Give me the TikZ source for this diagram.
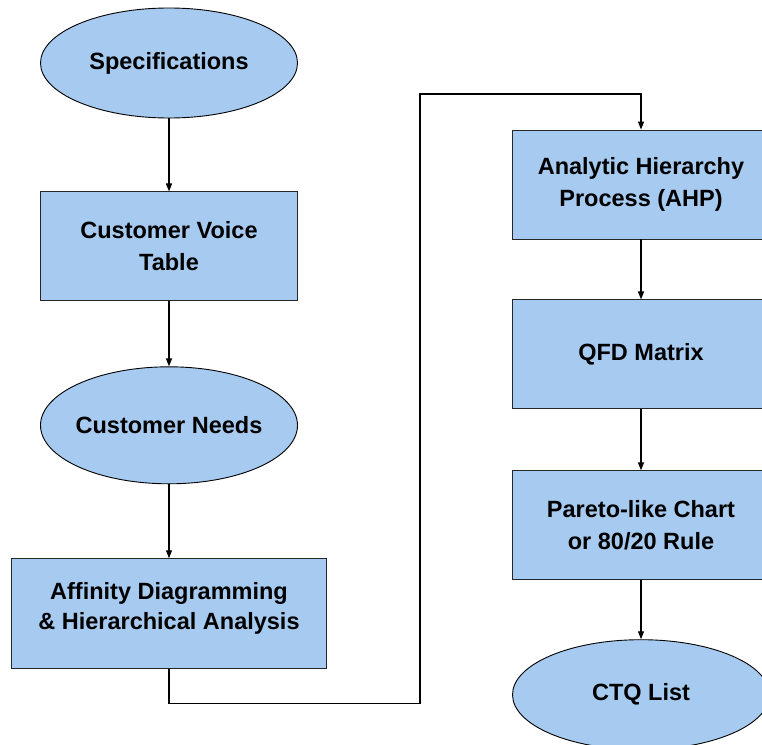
\documentclass[tikz,border=0pt]{standalone}
\usepackage{fontspec}
\setmainfont{Liberation Sans}
\usepackage{xcolor}
\usepackage{tikz}
\usetikzlibrary{shapes.geometric, arrows.meta, positioning}

\definecolor{boxblue}{RGB}{166,202,240}

\begin{document}
\begin{tikzpicture}[
    x=1pt, y=-1pt,
    node distance=60pt,
    termnode/.style={ellipse, draw=black, fill=boxblue, line width=0.9pt, minimum width=257pt, minimum height=110pt, inner ysep=0pt, inner xsep=-40pt, align=center, font=\fontsize{23.5}{32}\selectfont\bfseries},
    procnode/.style={rectangle, draw=black!85, fill=boxblue, line width=0.9pt, minimum width=257pt, minimum height=109pt, inner sep=0pt, align=center, font=\fontsize{23.5}{32}\selectfont\bfseries},
    arr/.style={-{Triangle[length=8pt, width=6pt]}, line width=1.3pt, color=black}
]
\useasboundingbox (0,0) rectangle (762,744);
\clip (0,0) rectangle (762,744);

% left column
\node[termnode] (spec) at (169,63) {Specifications};
\node[procnode, below=73pt of spec] (voice) {Customer Voice\\Table};
\node[termnode, minimum height=117pt, below=65pt of voice] (needs) {Customer Needs};
\node[procnode, minimum width=315pt, minimum height=110pt, below=74pt of needs] (affinity) {Affinity Diagramming\\[-2pt]\& Hierarchical Analysis\\[-16pt]};

% right column
\node[procnode] (ahp) at (641,184.5) {Analytic Hierarchy\\Process (AHP)};
\node[procnode, below=of ahp] (qfd) {QFD Matrix};
\node[procnode, below=61pt of qfd] (pareto) {Pareto-like Chart\\or 80/20 Rule};
\node[termnode, below=59pt of pareto] (ctq) {CTQ List};

\coordinate (turn) at (420,94);

\draw[arr] (spec) -- (voice);
\draw[arr] (voice) -- (needs);
\draw[arr] (needs) -- (affinity);
\draw[arr] (affinity.south) -- ++(0,34) -| (turn) -| (ahp.north);
\draw[arr] (ahp) -- (qfd);
\draw[arr] (qfd) -- (pareto);
\draw[arr] (pareto) -- (ctq);

\end{tikzpicture}
\end{document}
